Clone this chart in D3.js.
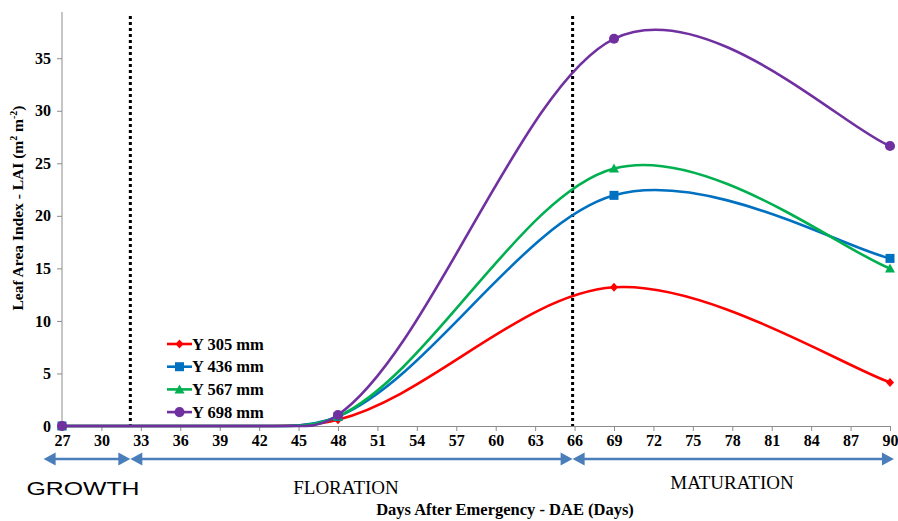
<!DOCTYPE html>
<html>
<head>
<meta charset="utf-8">
<script src="https://cdn.jsdelivr.net/npm/d3@7"></script>
<style>
  html, body { margin: 0; padding: 0; background: #fff; }
  svg { display: block; }
</style>
</head>
<body>
<svg id="chart" width="898" height="521"></svg>
<script>
// ---------------- data ----------------
const days = [27, 48, 69, 90];                 // sampled days (markers)
const y305 = [0, 0.6, 13.2, 4.15];
const y436 = [0, 0.9, 21.95, 15.95];
const y567 = [0, 0.9, 24.5, 15.0];
const y698 = [0, 1.05, 36.85, 26.65];
const lastZeroDay = [42, 44, 44.5, 45.5];      // day where each curve leaves zero
const seriesNames = ["Y 305 mm", "Y 436 mm", "Y 567 mm", "Y 698 mm"];
const seriesColors = ["#FF0000", "#0070C0", "#00B050", "#7030A0"];
const seriesMarkers = ["diamond", "square", "triangle", "circle"];
const xTicks = [27, 30, 33, 36, 39, 42, 45, 48, 51, 54, 57, 60, 63, 66, 69, 72, 75, 78, 81, 84, 87, 90];
const yTicks = [0, 5, 10, 15, 20, 25, 30, 35];
const yAxisMax = 39.4;
const phaseNames = ["GROWTH", "FLORATION", "MATURATION"];
const phaseStart = [25.6, 32.2, 65.85];
const phaseEnd = [32.2, 65.85, 90.3];
const dividerDays = [32.2, 65.85];

const seriesValues = [y305, y436, y567, y698];

// ---------------- layout ----------------
const svg = d3.select("#chart");
const x = d3.scaleLinear().domain([27, 90]).range([62, 890]);
const y = d3.scaleLinear().domain([0, yAxisMax]).range([426, 12]);
const serif = "'Liberation Serif', 'Times New Roman', serif";
const sans = "'Liberation Sans', Arial, sans-serif";
const axisGrey = "#8c8c8c";

// dotted divider lines
svg.append("g").selectAll("line").data(dividerDays).join("line")
  .attr("x1", d => x(d)).attr("x2", d => x(d))
  .attr("y1", 16).attr("y2", y(0))
  .attr("stroke", "#000").attr("stroke-width", 3)
  .attr("stroke-dasharray", "3,3");

// y axis
const yAxis = svg.append("g").attr("transform", `translate(${x(27)},0)`)
  .call(d3.axisLeft(y).tickValues(yTicks).tickSize(5).tickPadding(6));
yAxis.select(".domain").remove();
yAxis.append("line").attr("x1", 0).attr("x2", 0).attr("y1", y(yAxisMax)).attr("y2", y(0))
  .attr("stroke", axisGrey).attr("stroke-width", 1);
yAxis.selectAll(".tick line").attr("stroke", axisGrey);
yAxis.selectAll(".tick text").attr("font-family", serif).attr("font-weight", "bold")
  .attr("font-size", 16).attr("fill", "#000");

// x axis
const xAxis = svg.append("g").attr("transform", `translate(0,${y(0)})`)
  .call(d3.axisBottom(x).tickValues(xTicks).tickSize(5).tickPadding(4).tickFormat(d3.format("d")));
xAxis.select(".domain").attr("stroke", axisGrey);
xAxis.selectAll(".tick line").attr("stroke", axisGrey);
xAxis.selectAll(".tick text").attr("font-family", serif).attr("font-weight", "bold")
  .attr("font-size", 16).attr("fill", "#000");

// Excel-style smoothed line, with a flat start at zero until lastZero day
function smoothPath(vals, zeroDay) {
  const pts = days.map((d, i) => [x(d), y(vals[i])]);
  const p = d3.path();
  p.moveTo(pts[0][0], pts[0][1]);
  // flat part
  const pz = [x(zeroDay), y(0)];
  p.lineTo(pz[0], pz[1]);
  // tangent at second point (Excel style from neighbours)
  const t1 = [(pts[2][0] - pts[0][0]) / 6, (pts[2][1] - pts[0][1]) / 6];
  const slope = t1[1] / t1[0];
  const dx = pts[1][0] - pz[0];
  p.bezierCurveTo(pz[0] + dx / 3, pz[1], pts[1][0] - dx / 3, pts[1][1] - slope * dx / 3, pts[1][0], pts[1][1]);
  // remaining segments
  for (let i = 1; i < pts.length - 1; i++) {
    const p1 = pts[i], p2 = pts[i + 1];
    const p0 = pts[i - 1];
    const p3 = i + 2 < pts.length ? pts[i + 2] : p2;
    const b1 = [p1[0] + (p2[0] - p0[0]) / 6, p1[1] + (p2[1] - p0[1]) / 6];
    const b2 = [p2[0] - (p3[0] - p1[0]) / 6, p2[1] - (p3[1] - p1[1]) / 6];
    p.bezierCurveTo(b1[0], b1[1], b2[0], b2[1], p2[0], p2[1]);
  }
  return p.toString();
}

function markerPath(type) {
  switch (type) {
    case "diamond": return "M0,-4.5L4,0L0,4.5L-4,0Z";
    case "square": return "M-4.5,-4.5H4.5V4.5H-4.5Z";
    case "triangle": return "M0,-5L5,4L-5,4Z";
    default: return d3.symbol(d3.symbolCircle, 80)();
  }
}

// series lines
seriesValues.forEach((vals, si) => {
  svg.append("path").attr("d", smoothPath(vals, lastZeroDay[si]))
    .attr("fill", "none").attr("stroke", seriesColors[si]).attr("stroke-width", 2.6);
});
// markers
seriesValues.forEach((vals, si) => {
  svg.append("g").selectAll("path").data(days.map((d, i) => ({ d, v: vals[i] }))).join("path")
    .attr("transform", o => `translate(${x(o.d)},${y(o.v)})`)
    .attr("d", markerPath(seriesMarkers[si]))
    .attr("fill", seriesColors[si]);
});

// legend
const legend = svg.append("g").attr("transform", "translate(167,344)");
seriesNames.forEach((name, i) => {
  const g = legend.append("g").attr("transform", `translate(0,${i * 22.7})`);
  g.append("line").attr("x1", 0).attr("x2", 25).attr("y1", 0).attr("y2", 0)
    .attr("stroke", seriesColors[i]).attr("stroke-width", 2.6);
  g.append("path").attr("transform", "translate(12.5,0)").attr("d", markerPath(seriesMarkers[i]))
    .attr("fill", seriesColors[i]);
  g.append("text").attr("x", 25).attr("y", 5.5).text(name)
    .attr("font-family", serif).attr("font-weight", "bold").attr("font-size", 16.5);
});

// phase arrows
const arrowY = 459, headL = 12, headH = 6.5, arrowColor = "#4A7EBB";
phaseNames.forEach((name, i) => {
  const x0 = x(phaseStart[i]), x1 = x(phaseEnd[i]);
  const g = svg.append("g");
  g.append("line").attr("x1", x0 + headL - 1).attr("x2", x1 - headL + 1)
    .attr("y1", arrowY).attr("y2", arrowY).attr("stroke", arrowColor).attr("stroke-width", 2.5);
  g.append("path").attr("d", `M${x0},${arrowY}L${x0 + headL},${arrowY - headH}L${x0 + headL},${arrowY + headH}Z`)
    .attr("fill", arrowColor);
  g.append("path").attr("d", `M${x1},${arrowY}L${x1 - headL},${arrowY - headH}L${x1 - headL},${arrowY + headH}Z`)
    .attr("fill", arrowColor);
});

// phase labels
svg.append("text").attr("x", 83).attr("y", 495).attr("text-anchor", "middle")
  .attr("font-family", sans).attr("font-size", 19)
  .attr("textLength", 113).attr("lengthAdjust", "spacingAndGlyphs").text(phaseNames[0]);
svg.append("text").attr("x", 346).attr("y", 494).attr("text-anchor", "middle")
  .attr("font-family", serif).attr("font-size", 19).text(phaseNames[1]);
svg.append("text").attr("x", 732).attr("y", 489).attr("text-anchor", "middle")
  .attr("font-family", serif).attr("font-size", 19).text(phaseNames[2]);

// axis titles
svg.append("text").attr("x", 505).attr("y", 515).attr("text-anchor", "middle")
  .attr("font-family", serif).attr("font-weight", "bold").attr("font-size", 16.5)
  .text("Days After Emergency - DAE (Days)");

const yt = svg.append("text").attr("transform", "translate(23,208) rotate(-90)")
  .attr("text-anchor", "middle")
  .attr("font-family", serif).attr("font-weight", "bold").attr("font-size", 15.5);
yt.append("tspan").text("Leaf Area Index - LAI (m");
yt.append("tspan").attr("dy", -6).attr("font-size", 10).text("2");
yt.append("tspan").attr("dy", 6).text("  m");
yt.append("tspan").attr("dy", -6).attr("font-size", 10).text("-2");
yt.append("tspan").attr("dy", 6).text(")");
</script>
</body>
</html>
